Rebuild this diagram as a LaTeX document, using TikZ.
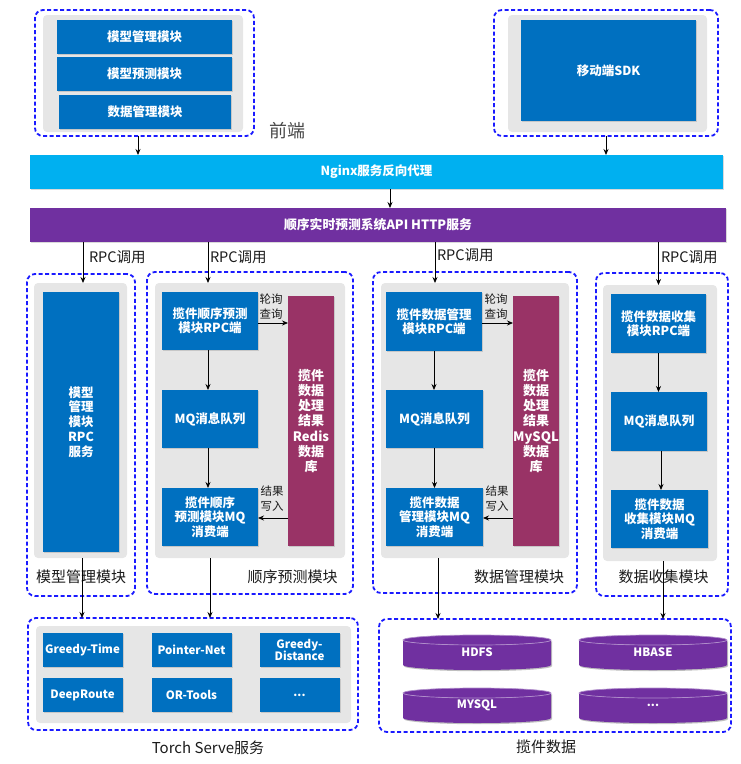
\documentclass[tikz,border=0pt]{standalone}
\usepackage{fontspec}
\setmainfont{Noto Sans CJK SC}
\usetikzlibrary{arrows.meta,shadows}
\definecolor{mblue}{HTML}{0070C0}
\definecolor{ngxc}{HTML}{00B0F0}
\definecolor{apip}{HTML}{7030A0}
\definecolor{dbr}{HTML}{993366}
\definecolor{gbg}{HTML}{E6E6E6}
\definecolor{dashb}{HTML}{1A1AFF}
\definecolor{lblc}{HTML}{1A1A1A}
\pgfdeclarelayer{bg}
\pgfsetlayers{bg,main}
\begin{document}
\begin{tikzpicture}[x=1pt,y=-1pt,
 every node/.style={inner sep=0pt, outer sep=0pt},
 dashbox/.style={draw=dashb, line width=1.8pt, dash pattern=on 4pt off 2.5pt, rounded corners=8pt},
 greybox/.style={fill=gbg, rounded corners=4pt},
 bluebox/.style={fill=mblue, text=white, font=\fontsize{12.5}{14}\selectfont\bfseries, align=center,
   drop shadow={shadow xshift=1pt,shadow yshift=-1.2pt,opacity=0.3}},
 tbox/.style={bluebox, font=\fontsize{11.5}{13}\selectfont\bfseries, minimum width=80pt, minimum height=34pt},
 dbbox/.style={fill=dbr, text=white, font=\fontsize{13}{15.3}\selectfont\bfseries, align=center,
   drop shadow={shadow xshift=1pt,shadow yshift=-1.2pt,opacity=0.3}},
 bar/.style={text=white, font=\fontsize{12.5}{14}\selectfont\bfseries,
   drop shadow={shadow xshift=1pt,shadow yshift=-1.2pt,opacity=0.3}},
 dbtext/.style={text=white, font=\fontsize{11.5}{14}\selectfont\bfseries, minimum width=148pt, minimum height=35pt},
 arr/.style={-{Stealth[length=6pt,width=5pt]}, line width=0.8pt},
 lbl/.style={text=lblc, font=\fontsize{15}{18}\selectfont},
 rpc/.style={text=lblc, font=\fontsize{14.5}{16}\selectfont, anchor=west},
 small/.style={text=lblc, font=\fontsize{11.5}{14}\selectfont},
]
\path[use as bounding box] (0,0) rectangle (741,764);

% ---------- front end ----------
\node[greybox, minimum width=200pt, minimum height=117pt] (feg) at (143,73.5) {};
\node[dashbox, minimum width=219pt, minimum height=126pt] (fe) at (144.5,73) {};
\node[bluebox, minimum width=175pt, minimum height=34pt] (fb1) at (144.5,37) {模型管理模块};
\node[bluebox, minimum width=175pt, minimum height=34pt] (fb2) at (144.5,74) {模型预测模块};
\node[bluebox, minimum width=172pt, minimum height=34pt] (fb3) at (145,112) {数据管理模块};
\node[text=lblc!80, font=\fontsize{18}{20}\selectfont] (qd) at (287,131) {前端};

\node[greybox, minimum width=199pt, minimum height=117pt] (sdkg) at (607.5,73.5) {};
\node[dashbox, minimum width=224pt, minimum height=126pt] (sdkd) at (606,73) {};
\node[bluebox, minimum width=175pt, minimum height=101pt] (sdk) at (608.5,70.5) {移动端SDK};

% ---------- bars ----------
\node[bar, fill=ngxc, minimum width=693pt, minimum height=34pt] (ngx) at (376.5,172) {Nginx服务反向代理};
\node[bar, fill=apip, minimum width=696pt, minimum height=34pt, font=\fontsize{12.8}{14}\selectfont\bfseries] (api) at (378,225) {顺序实时预测系统API HTTP服务};

\draw[arr] ([xshift=-6.5pt]fe.south) -- ([xshift=-6.5pt]fe.south |- ngx.north);
\draw[arr] (sdkd.south) -- (sdkd.south |- ngx.north);
\draw[arr] ([xshift=13.5pt]ngx.south) -- ([xshift=12pt]api.north);

% ---------- model management module ----------
\node[greybox, minimum width=93pt, minimum height=275pt] (lg) at (80.5,420.5) {};
\node[dashbox, minimum width=108pt, minimum height=322pt] (ld) at (81,435) {};
\node[bluebox, minimum width=76pt, minimum height=260pt, font=\fontsize{12.5}{14.75}\selectfont\bfseries] (lm) at (81,422) {模型\\管理\\模块\\RPC\\服务};
\node[lbl] (lml) at (81,577) {模型管理模块};

% ---------- sequence prediction module ----------
\node[greybox, minimum width=190pt, minimum height=275pt] (sg) at (250,420.5) {};
\node[dashbox, minimum width=206pt, minimum height=322pt] (sd) at (250,433) {};
\node[bluebox, minimum width=96pt, minimum height=58pt, font=\fontsize{12.5}{13.8}\selectfont\bfseries] (s1) at (210,321) {揽件顺序预测\\模块RPC端};
\node[bluebox, minimum width=96pt, minimum height=58pt] (s2) at (210,419) {MQ消息队列};
\node[bluebox, minimum width=96pt, minimum height=58pt, font=\fontsize{12.5}{14.5}\selectfont\bfseries] (s3) at (210,517) {揽件顺序\\预测模块MQ\\消费端};
\node[dbbox, minimum width=46pt, minimum height=250pt] (redis) at (311,421) {揽件\\数据\\处理\\结果\\Redis\\数据\\库};
\node[lbl] (sml) at (292.5,577) {顺序预测模块};
\node[small] (s4a) at (271,299) {轮询};
\node[small] (s4b) at (271,314) {查询};
\node[small] (s5a) at (272,491) {结果};
\node[small] (s5b) at (272,506) {写入};

% ---------- data management module ----------
\node[greybox, minimum width=188pt, minimum height=275pt] (dg) at (475,420.5) {};
\node[dashbox, minimum width=204pt, minimum height=321pt] (dd) at (475,432.5) {};
\node[bluebox, minimum width=96pt, minimum height=59pt, font=\fontsize{12.5}{13.8}\selectfont\bfseries] (d1) at (434,321.5) {揽件数据管理\\模块RPC端};
\node[bluebox, minimum width=97pt, minimum height=58pt] (d2) at (434.5,419) {MQ消息队列};
\node[bluebox, minimum width=97pt, minimum height=58pt, font=\fontsize{12.5}{14.5}\selectfont\bfseries] (d3) at (434.5,517) {揽件数据\\管理模块MQ\\消费端};
\node[dbbox, minimum width=46pt, minimum height=250pt] (mysql) at (536,421) {揽件\\数据\\处理\\结果\\MySQL\\数据\\库};
\node[lbl] (dml) at (519,577) {数据管理模块};
\node[small] (d4a) at (496,299) {轮询};
\node[small] (d4b) at (496,314) {查询};
\node[small] (d5a) at (497,491) {结果};
\node[small] (d5b) at (497,506) {写入};

% ---------- data collection module ----------
\node[greybox, minimum width=114pt, minimum height=276pt] (cg) at (660,423) {};
\node[dashbox, minimum width=132pt, minimum height=323pt] (cd) at (662,434.5) {};
\node[bluebox, minimum width=95pt, minimum height=59pt, font=\fontsize{12.5}{13.8}\selectfont\bfseries] (c1) at (658.5,323.5) {揽件数据收集\\模块RPC端};
\node[bluebox, minimum width=96pt, minimum height=59pt] (c2) at (659,421.5) {MQ消息队列};
\node[bluebox, minimum width=97pt, minimum height=58pt, font=\fontsize{12.5}{14.5}\selectfont\bfseries] (c3) at (659.5,519) {揽件数据\\收集模块MQ\\消费端};
\node[lbl] (cml) at (663.5,577) {数据收集模块};

% ---------- RPC calls ----------
\draw[arr] ([xshift=2.5pt]lg.north |- api.south) -- ([xshift=2.5pt]lg.north);
\draw[arr] ([xshift=-2pt]s1.north |- api.south) -- ([xshift=-2pt]s1.north |- sg.north);
\draw[arr] ([xshift=1pt]d1.north |- api.south) -- ([xshift=1pt]d1.north |- dg.north);
\draw[arr] (c1.north |- api.south) -- (c1.north |- cg.north);
\node[rpc] (rpc1) at (89,257) {RPC调用};
\node[rpc] (rpc2) at (210,257) {RPC调用};
\node[rpc] (rpc3) at (437,255) {RPC调用};
\node[rpc] (rpc4) at (661,257) {RPC调用};

% ---------- inner arrows ----------
\draw[arr] ([xshift=-2pt]s1.south) -- ([xshift=-2pt]s2.north);
\draw[arr] ([xshift=-2pt]s2.south) -- ([xshift=-2pt]s3.north);
\draw[arr] ([yshift=-2pt]s1.east) -- ([yshift=-2pt]s1.east -| redis.west);
\draw[arr] ([yshift=-1pt]s3.east -| redis.west) -- ([yshift=-1pt]s3.east);

\draw[arr] (d1.south) -- (d1.south |- d2.north);
\draw[arr] (d2.south) -- (d2.south |- d3.north);
\draw[arr] ([yshift=-1.5pt]d1.east) -- ([yshift=-1.5pt]d1.east -| mysql.west);
\draw[arr] ([yshift=-1pt]d3.east -| mysql.west) -- ([yshift=-1pt]d3.east);

\draw[arr] (c1.south) -- (c1.south |- c2.north);
\draw[arr] ([xshift=2pt]c2.south) -- ([xshift=2pt]c2.south |- c3.north);

% ---------- bottom: Torch Serve ----------
\node[greybox, minimum width=315pt, minimum height=97pt] (tg) at (193.5,674.5) {};
\node[dashbox, minimum width=330pt, minimum height=112pt] (torch) at (193,674) {};
\node[tbox] (t1) at (82.5,650) {Greedy-Time};
\node[tbox] (t2) at (191.5,650) {Pointer-Net};
\node[tbox, align=center, font=\fontsize{11.5}{12.5}\selectfont\bfseries] (t3) at (299.5,650) {Greedy-\\Distance};
\node[tbox] (t4) at (82.5,695) {DeepRoute};
\node[tbox] (t5) at (191.5,695) {OR-Tools};
\node[tbox] (t6) at (299.5,695) {...};
\node[lbl] (tl) at (208,748) {Torch Serve服务};

% ---------- bottom: data storage ----------
\node[dashbox, minimum width=352pt, minimum height=113pt] (store) at (555,675.5) {};
\node[dbtext] (hdfs) at (477,652.5) {HDFS};
\node[dbtext] (hbase) at (653,652.5) {HBASE};
\node[dbtext] (mysqldb) at (477,705.5) {MYSQL};
\node[dbtext] (moredb) at (653,705.5) {...};
\begin{pgfonlayer}{bg}
\foreach \n in {hdfs,hbase,mysqldb,moredb}{
  \fill[black, opacity=0.25] ([xshift=1pt,yshift=-6.2pt]\n.north west) arc[start angle=180, end angle=360, x radius=74pt, y radius=5pt]
     -- ([xshift=1pt,yshift=3.8pt]\n.south east) arc[start angle=0, end angle=-180, x radius=74pt, y radius=5pt] -- cycle;
  \fill[apip] ([yshift=-5pt]\n.north west) arc[start angle=180, end angle=360, x radius=74pt, y radius=5pt]
     -- ([yshift=5pt]\n.south east) arc[start angle=0, end angle=-180, x radius=74pt, y radius=5pt] -- cycle;
  \filldraw[fill=apip, draw=apip!55!white, line width=0.7pt] ([yshift=-5pt]\n.north) ellipse[x radius=74pt, y radius=5pt];
}
\end{pgfonlayer}
\node[lbl] (sl) at (546,747) {揽件数据};

% ---------- arrows to bottom ----------
\draw[arr] ([xshift=1.5pt]lg.south) -- ([xshift=1.5pt]lg.south |- torch.north);
\draw[arr] (s3.south |- sg.south) -- (s3.south |- torch.north);
\draw[arr] ([xshift=3.5pt]d3.south |- dg.south) -- ([xshift=3.5pt]d3.south |- store.north);
\draw[arr] ([xshift=3.5pt]c3.south |- cg.south) -- ([xshift=3.5pt]c3.south |- store.north);
\end{tikzpicture}
\end{document}
